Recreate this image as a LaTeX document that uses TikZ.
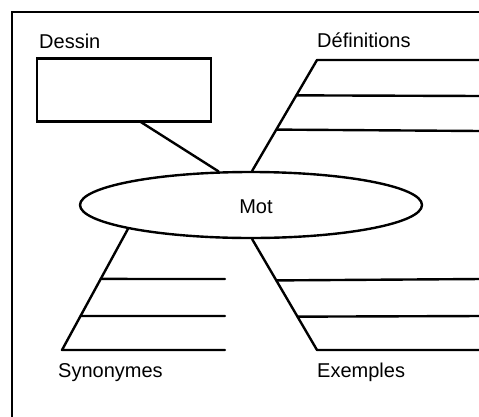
\documentclass[tikz,border=0pt]{standalone}
\usepackage{fontspec}
\setmainfont{Liberation Sans}
\usetikzlibrary{shapes.geometric,calc}
\begin{document}
\begin{tikzpicture}[x=1pt,y=-1pt,
  ln/.style={line width=2.4pt,line join=round,line cap=round},
  lbl/.style={inner sep=0pt,anchor=base west,font=\fontsize{20}{24}\selectfont},
  box/.style={draw,line width=2.4pt,minimum width=174pt,minimum height=63pt,inner sep=0pt},
  oval/.style={draw,ellipse,line width=2.4pt,minimum width=342pt,minimum height=66pt,inner sep=0pt,fill=white}]
\fill[white] (0,0) rectangle (479,416);
\useasboundingbox (0,0) rectangle (479,416);
% frame (only top and left visible)
\draw[line width=2.4pt] (12,418) -- (12,12) -- (481,12);
% Dessin
\node[box] (dessin) at (124,90) {};
\node[lbl] (tdessin) at (39,48) {Dessin};
% central oval
\node[oval] (mot) at (251,205) {};
\node[lbl,anchor=base] (tmot) at (256,213) {Mot};
% connector Dessin - Mot
\coordinate (dbot) at (140,121.5);
\draw[ln] (dbot) -- (mot.134);
% Definitions
\coordinate (def0) at (317,60);
\coordinate (def1) at ($(mot.88)!0.681!(def0)$);
\coordinate (def2) at ($(mot.88)!0.372!(def0)$);
\coordinate (defR0) at (481,60);
\coordinate (defR1) at (481,96);
\coordinate (defR2) at (481,131);
\draw[ln] (mot.88) -- (def0) -- (defR0);
\draw[ln] (def1) -- (defR1);
\draw[ln] (def2) -- (defR2);
\node[lbl] (tdef) at (317,47) {Définitions};
% Synonymes
\coordinate (syn0) at (62,350);
\coordinate (syn1) at ($(mot.191)!0.413!(syn0)$);
\coordinate (syn2) at ($(mot.191)!0.719!(syn0)$);
\coordinate (synR0) at (225,350);
\coordinate (synR1) at (225,279);
\coordinate (synR2) at (225,316);
\draw[ln] (mot.191) -- (syn0) -- (synR0);
\draw[ln] (syn1) -- (synR1);
\draw[ln] (syn2) -- (synR2);
\node[lbl] (tsyn) at (58,377) {Synonymes};
% Exemples
\coordinate (ex0) at (317,350);
\coordinate (ex1) at ($(mot.272)!0.372!(ex0)$);
\coordinate (ex2) at ($(mot.272)!0.699!(ex0)$);
\coordinate (exR0) at (481,350);
\coordinate (exR1) at (481,279);
\coordinate (exR2) at (481,316);
\draw[ln] (mot.272) -- (ex0) -- (exR0);
\draw[ln] (ex1) -- (exR1);
\draw[ln] (ex2) -- (exR2);
\node[lbl] (tex) at (317,377) {Exemples};
\end{tikzpicture}
\end{document}
